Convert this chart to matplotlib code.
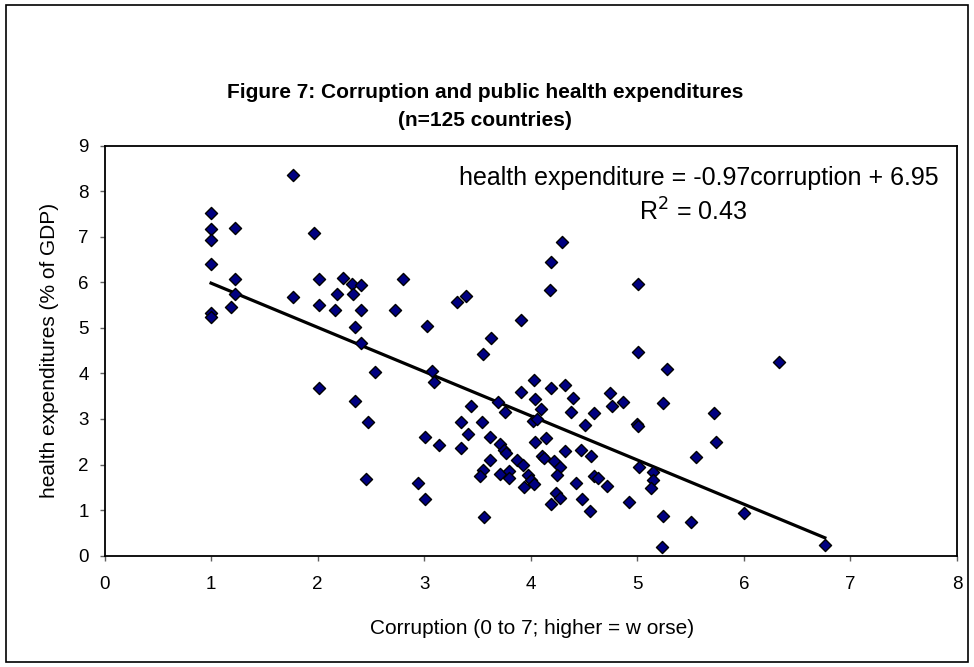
import matplotlib
matplotlib.use("Agg")
import matplotlib.pyplot as plt
from matplotlib.patches import Rectangle

plt.rcParams['font.family'] = ['Liberation Sans', 'DejaVu Sans']

# corruption index (0 to 7) per country
corruption = [
    1.77, 1.00, 1.00, 1.00, 1.22, 1.97, 1.00, 1.22, 2.01, 2.24,
    2.32, 2.41, 2.80, 1.22, 1.77, 2.18, 2.33, 1.19, 2.01, 2.16,
    2.41, 2.73, 1.00, 1.00, 2.35, 3.03, 2.41, 2.54, 3.07, 3.09,
    2.01, 2.35, 2.47, 3.01, 3.14, 2.45, 2.94, 3.01, 4.29, 4.19,
    4.18, 5.01, 3.31, 3.39, 3.91, 3.63, 3.55, 5.01, 4.03, 3.91,
    4.19, 4.32, 4.40, 4.74, 4.87, 4.76, 3.44, 3.69, 3.76, 4.04,
    4.10, 4.38, 4.59, 3.35, 3.54, 4.02, 4.06, 4.51, 5.00, 5.01,
    3.41, 3.62, 3.71, 3.75, 3.77, 3.35, 4.04, 4.14, 4.32, 4.47,
    4.57, 5.02, 4.11, 4.12, 3.62, 3.87, 3.93, 4.22, 4.27, 4.25,
    3.55, 3.52, 3.71, 3.80, 3.80, 3.97, 4.00, 4.03, 3.94, 4.59,
    4.63, 4.72, 4.42, 4.24, 4.27, 4.19, 4.48, 4.56, 4.92, 3.56,
    5.28, 6.33, 5.24, 5.72, 5.74, 5.55, 5.15, 5.15, 5.13, 5.24,
    5.50, 6.00, 5.23, 6.76,
]

# public health expenditures (% of GDP)
health = [
    8.35, 7.51, 7.16, 6.92, 7.19, 7.07, 6.41, 6.07, 6.07, 6.10,
    5.97, 5.94, 6.07, 5.75, 5.68, 5.75, 5.74, 5.45, 5.49, 5.40,
    5.40, 5.40, 5.32, 5.23, 5.01, 5.04, 4.66, 4.04, 4.06, 3.82,
    3.68, 3.39, 2.94, 2.60, 2.42, 1.68, 1.59, 1.24, 6.89, 6.45,
    5.83, 5.97, 5.57, 5.70, 5.18, 4.78, 4.43, 4.48, 3.86, 3.60,
    3.69, 3.74, 3.47, 3.56, 3.38, 3.29, 3.29, 3.38, 3.16, 3.43,
    3.21, 3.16, 3.12, 2.94, 2.94, 2.96, 2.99, 2.87, 2.90, 2.84,
    2.68, 2.60, 2.46, 2.32, 2.25, 2.37, 2.50, 2.59, 2.30, 2.33,
    2.19, 1.94, 2.19, 2.15, 2.11, 2.11, 1.99, 2.08, 1.94, 1.78,
    1.89, 1.75, 1.80, 1.86, 1.70, 1.77, 1.66, 1.57, 1.50, 1.75,
    1.70, 1.53, 1.59, 1.37, 1.27, 1.13, 1.24, 0.97, 1.18, 0.84,
    4.09, 4.25, 3.34, 3.12, 2.50, 2.16, 1.84, 1.66, 1.48, 0.88,
    0.75, 0.93, 0.18, 0.24,
]

# linear trend reported on the chart
slope = -0.97
intercept = 6.95
r_squared = 0.43

W, H = 974, 667
fig = plt.figure(figsize=(W / 100, H / 100), dpi=100)
# plot area in pixels: left 104.5, right 957, top 145.5, bottom 555.7
ax = fig.add_axes([104.5 / W, 1 - 555.7 / H, (957 - 104.5) / W, (555.7 - 145.5) / H])

ax.scatter(corruption, health, marker='D', s=38, color='#000080',
           edgecolors='black', linewidths=1.0, zorder=3)

x_fit = [min(corruption), max(corruption)]
y_fit = [slope * x + intercept for x in x_fit]
ax.plot(x_fit, y_fit, color='black', linewidth=2.3, zorder=2)

ax.set_xlim(0, 8)
ax.set_ylim(0, 9)
ax.set_xticks(range(0, 9))
ax.set_yticks(range(0, 10))
ax.tick_params(direction='out', length=3.5, width=1, color='#606060',
               labelsize=13.5)
ax.tick_params(axis='x', pad=11)
ax.tick_params(axis='y', pad=8)
for sp in ax.spines.values():
    sp.set_linewidth(1.3)
    sp.set_color('black')

fig.text(532 / W, 1 - 629 / H, "Corruption (0 to 7; higher = w orse)",
         ha='center', va='center', fontsize=15)
fig.text(50 / W, 1 - 350 / H, "health expenditures (% of GDP)",
         ha='center', va='center', rotation=90, fontsize=15)

fig.text(699 / W, 1 - 178 / H,
         "health expenditure = %.2fcorruption + %.2f" % (slope, intercept),
         ha='center', va='center', fontsize=18)
fig.text(693 / W, 1 - 212 / H, "R$^2$ = %.2f" % r_squared,
         ha='center', va='center', fontsize=18)

fig.text(485 / W, 1 - 93 / H, "Figure 7: Corruption and public health expenditures",
         ha='center', va='center', fontsize=15, fontweight='bold')
fig.text(485 / W, 1 - 121 / H, "(n=125 countries)",
         ha='center', va='center', fontsize=15, fontweight='bold')

fig.patches.append(Rectangle((0.006, 0.008), 0.988, 0.984, transform=fig.transFigure,
                             fill=False, edgecolor='black', linewidth=1.2))

fig.savefig("out.png", dpi=100)
